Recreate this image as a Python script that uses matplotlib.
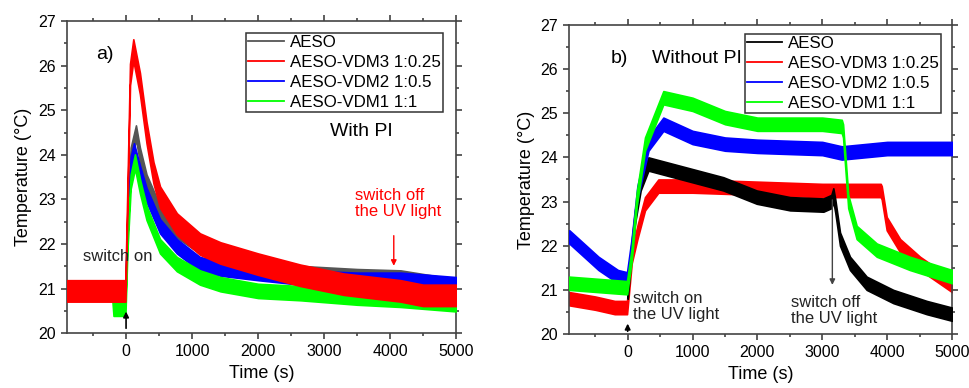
import numpy as np
import matplotlib
matplotlib.use("Agg")
import matplotlib.pyplot as plt
from matplotlib.ticker import MultipleLocator

plt.rcParams['font.family'] = ['Liberation Sans', 'DejaVu Sans']

# ---- panel a) with PI : (time s, temperature C) ----
a_aeso_t = [-900, -10, 20, 70, 150, 210, 310, 515, 770, 1120, 1430, 2000, 2640, 3500, 4160, 5000]
a_aeso_T = [20.95, 21.0, 22.5, 24.0, 24.5, 24.0, 23.4, 22.7, 22.3, 21.95, 21.75, 21.55, 21.35, 21.28, 21.25, 21.05]

a_vdm3_t = [-900, -10, 20, 60, 110, 210, 310, 415, 515, 770, 1120, 1430, 2000, 2640, 3300, 4160, 4500, 5000]
a_vdm3_T = [20.95, 20.95, 23.0, 25.8, 26.35, 25.6, 24.5, 23.6, 23.05, 22.45, 22.0, 21.8, 21.55, 21.3, 21.1, 20.95, 20.85, 20.85]

a_vdm2_t = [-900, -10, 20, 70, 120, 210, 310, 515, 770, 1120, 1430, 2000, 2640, 3500, 4160, 5000]
a_vdm2_T = [20.95, 21.0, 22.3, 23.8, 24.1, 23.6, 23.1, 22.4, 21.95, 21.55, 21.45, 21.35, 21.25, 21.2, 21.2, 21.1]

a_vdm1_t = [-900, -210, -190, -10, 20, 70, 135, 210, 310, 515, 770, 1120, 1430, 2000, 2640, 3500, 4160, 5000]
a_vdm1_T = [20.95, 20.95, 20.55, 20.55, 22.0, 23.4, 23.85, 23.3, 22.7, 21.95, 21.55, 21.25, 21.1, 20.95, 20.9, 20.8, 20.75, 20.65]

# ---- panel b) without PI ----
b_aeso_t = [0, 50, 113, 200, 320, 447, 961, 1475, 1989, 2503, 3017, 3140, 3170, 3200, 3273, 3427, 3684, 4095, 4610, 5000]
b_aeso_T = [20.95, 21.8, 22.65, 23.4, 23.85, 23.8, 23.6, 23.4, 23.1, 22.95, 22.92, 23.0, 23.15, 22.9, 22.15, 21.6, 21.15, 20.85, 20.6, 20.45]

b_vdm3_t = [-900, -500, -200, -10, 62, 150, 267, 473, 1000, 2000, 3000, 3900, 3916, 3993, 4200, 4507, 5000]
b_vdm3_T = [20.8, 20.7, 20.6, 20.6, 21.75, 22.3, 22.95, 23.35, 23.35, 23.3, 23.25, 23.25, 23.2, 22.5, 22.0, 21.6, 21.1]

b_vdm2_t = [-900, -450, -150, -10, 60, 150, 320, 550, 1000, 1500, 2000, 3000, 3300, 4000, 5000]
b_vdm2_T = [22.2, 21.6, 21.3, 21.25, 22.0, 23.2, 24.3, 24.75, 24.45, 24.3, 24.25, 24.2, 24.1, 24.2, 24.2]

b_vdm1_t = [-900, -10, 62, 139, 267, 550, 1000, 1500, 2000, 3000, 3300, 3320, 3400, 3530, 3840, 4350, 5000]
b_vdm1_T = [21.15, 21.05, 21.8, 23.05, 24.3, 25.35, 25.2, 24.9, 24.75, 24.75, 24.7, 24.6, 23.0, 22.3, 21.9, 21.6, 21.3]

# noise half-width of each trace (C)
a_spread = [0.16, 0.24, 0.16, 0.16]
b_spread = [0.15, 0.15, 0.15, 0.15]

labels = ['AESO', 'AESO-VDM3 1:0.25', 'AESO-VDM2 1:0.5', 'AESO-VDM1 1:1']

fig = plt.figure(figsize=(9.69, 3.88), dpi=100)
ax1 = fig.add_axes([0.0688, 0.141, 0.4018, 0.805])
ax2 = fig.add_axes([0.5875, 0.139, 0.395, 0.797])


def trace(ax, t, T, s, color, label, z):
    t = np.array(t)
    T = np.array(T)
    ax.fill_between(t, T - s, T + s, color=color, lw=1.2, zorder=z)
    ax.plot([], [], color=color, lw=1.3, label=label)


def style(ax, anchor):
    ax.set_xlim(-900, 5000)
    ax.set_ylim(20, 27)
    ax.xaxis.set_major_locator(MultipleLocator(1000))
    ax.xaxis.set_minor_locator(MultipleLocator(500))
    ax.yaxis.set_major_locator(MultipleLocator(1))
    ax.yaxis.set_minor_locator(MultipleLocator(0.5))
    ax.tick_params(which='both', direction='out', top=True, right=True, colors='#333333',
                   labelcolor='black', labelsize=11.5, width=1.1)
    ax.tick_params(which='major', length=4.5)
    ax.tick_params(which='minor', length=2.5)
    for sp in ax.spines.values():
        sp.set_color('#444444')
        sp.set_linewidth(1.2)
    ax.set_xlabel('Time (s)', fontsize=13, labelpad=4)
    ax.set_ylabel('Temperature (°C)', fontsize=13, labelpad=4)
    leg = ax.legend(loc='upper right', bbox_to_anchor=anchor, fontsize=12.2,
                    frameon=True, fancybox=False, framealpha=1, edgecolor='#333333',
                    handlelength=2.1, handletextpad=0.35, borderpad=0.12, labelspacing=0.3,
                    borderaxespad=0)
    leg.get_frame().set_linewidth(1.1)


# panel a
trace(ax1, a_aeso_t, a_aeso_T, a_spread[0], '#555555', labels[0], 2)
trace(ax1, a_vdm3_t, a_vdm3_T, a_spread[1], '#ff0000', labels[1], 5)
trace(ax1, a_vdm2_t, a_vdm2_T, a_spread[2], '#0000ff', labels[2], 3)
trace(ax1, a_vdm1_t, a_vdm1_T, a_spread[3], '#00ff00', labels[3], 4)
style(ax1, (0.966, 0.962))
ax1.text(-450, 26.24, 'a)', fontsize=14, va='center')
ax1.text(3095, 24.52, 'With PI', fontsize=14, va='center')
ax1.text(-125, 21.72, 'switch on', fontsize=12, ha='center', va='center', color='#222222', zorder=6)
ax1.annotate('', xy=(0, 20.55), xytext=(0, 20.05),
             arrowprops=dict(arrowstyle='-|>', color='black', lw=1.2, mutation_scale=8), zorder=7)
ax1.text(3465, 22.9, 'switch off\nthe UV light', fontsize=12, color='#ff0000', va='center',
         linespacing=1.1)
ax1.annotate('', xy=(4057, 21.45), xytext=(4057, 22.25),
             arrowprops=dict(arrowstyle='-|>', color='#ff0000', lw=1.0, mutation_scale=8), zorder=7)

# panel b
trace(ax2, b_aeso_t, b_aeso_T, b_spread[0], '#000000', labels[0], 3)
trace(ax2, b_vdm3_t, b_vdm3_T, b_spread[1], '#ff0000', labels[1], 2)
trace(ax2, b_vdm2_t, b_vdm2_T, b_spread[2], '#0000ff', labels[2], 4)
trace(ax2, b_vdm1_t, b_vdm1_T, b_spread[3], '#00ff00', labels[3], 5)
style(ax2, (0.972, 0.970))
ax2.text(-262, 26.24, 'b)', fontsize=14, va='center')
ax2.text(370, 26.24, 'Without PI', fontsize=14, va='center')
ax2.text(87, 20.62, 'switch on\nthe UV light', fontsize=12, va='center', color='#222222',
         linespacing=1.1, zorder=6)
ax2.annotate('', xy=(0, 20.3), xytext=(0, 20.0),
             arrowprops=dict(arrowstyle='-|>', color='black', lw=1.2, mutation_scale=8), zorder=7)
ax2.text(2513, 20.53, 'switch off\nthe UV light', fontsize=12, va='center', color='#222222',
         linespacing=1.1, zorder=6)
ax2.annotate('', xy=(3155, 21.05), xytext=(3155, 23.1),
             arrowprops=dict(arrowstyle='-|>', color='#444444', lw=1.0, mutation_scale=8), zorder=7)

fig.savefig('out.png', dpi=100)
